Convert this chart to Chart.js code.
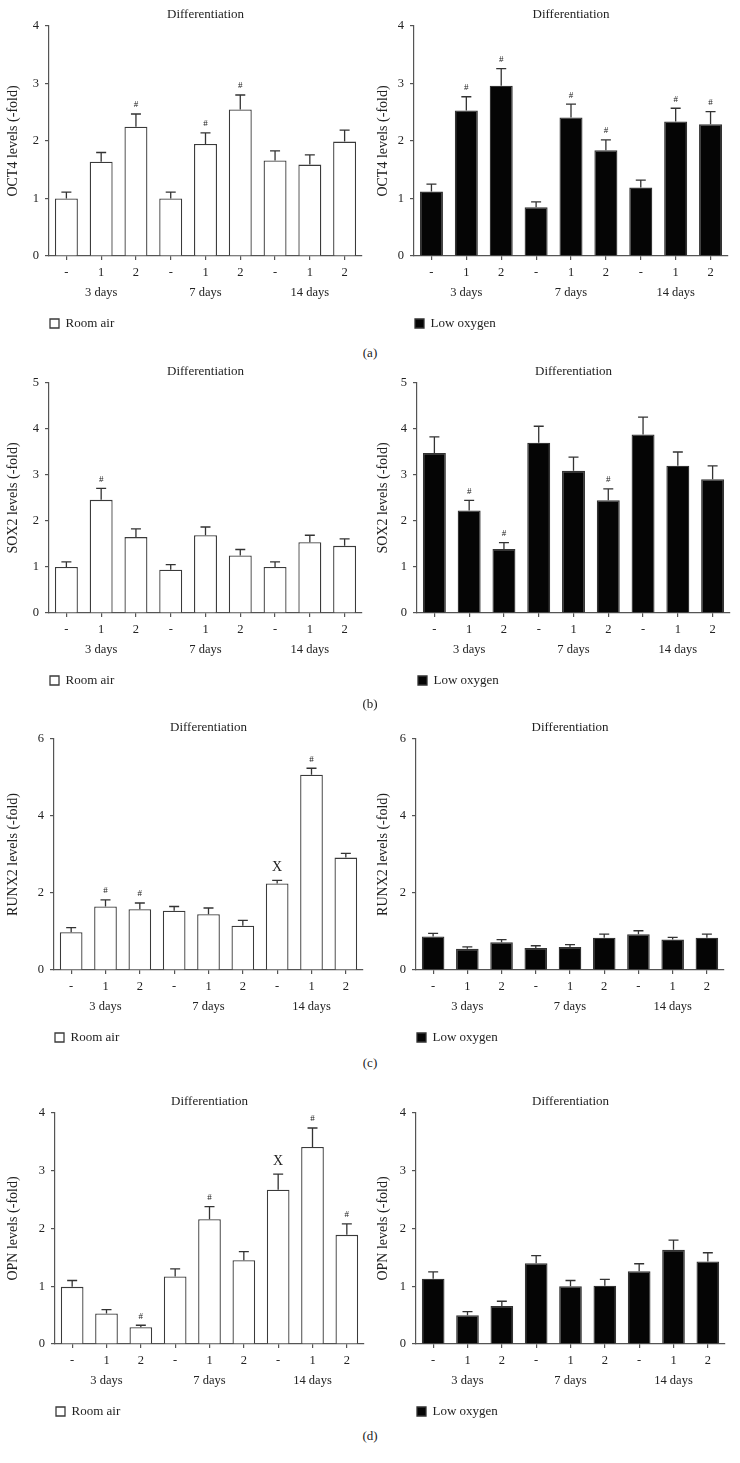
<!DOCTYPE html>
<html>
<head>
<meta charset="utf-8">
<script src="https://cdn.jsdelivr.net/npm/chart.js@4.4.1/dist/chart.umd.min.js"></script>
<style>
  html, body { margin: 0; padding: 0; background: #fff; }
  #fig { position: relative; width: 740px; height: 1463px; font-family: 'Liberation Serif', serif; color: #222; }
  #fig canvas { position: absolute; }
  .tag { position: absolute; width: 40px; margin-left: -20px; text-align: center; font-size: 13px; line-height: 16px; color: #222; }
</style>
</head>
<body>
<div id="fig"></div>
<script>
'use strict';

// x axis: dose under every bar, culture time under the middle bar of each group
const DOSES = ['-', '1', '2'];
const DAYS  = ['3 days', '7 days', '14 days'];

// y tick values per gene
const oct4Ticks  = [0, 1, 2, 3, 4];
const sox2Ticks  = [0, 1, 2, 3, 4, 5];
const runx2Ticks = [0, 2, 4, 6];
const opnTicks   = [0, 1, 2, 3, 4];

// (a) OCT4
const oct4Air     = [1.00, 1.64, 2.25, 1.00, 1.95, 2.55, 1.66, 1.59, 1.99];
const oct4AirErr  = [0.11, 0.16, 0.22, 0.11, 0.19, 0.25, 0.17, 0.17, 0.20];
const oct4AirSig  = ['', '', '#', '', '#', '#', '', '', ''];
const oct4Low     = [1.12, 2.53, 2.96, 0.85, 2.41, 1.84, 1.19, 2.34, 2.29];
const oct4LowErr  = [0.13, 0.24, 0.30, 0.09, 0.23, 0.18, 0.13, 0.23, 0.22];
const oct4LowSig  = ['', '#', '#', '', '#', '#', '', '#', '#'];

// (b) SOX2
const sox2Air     = [1.00, 2.46, 1.65, 0.94, 1.69, 1.25, 1.00, 1.54, 1.46];
const sox2AirErr  = [0.11, 0.25, 0.18, 0.11, 0.18, 0.13, 0.11, 0.15, 0.15];
const sox2AirSig  = ['', '#', '', '', '', '', '', '', ''];
const sox2Low     = [3.48, 2.23, 1.39, 3.70, 3.09, 2.45, 3.88, 3.20, 2.91];
const sox2LowErr  = [0.35, 0.22, 0.14, 0.36, 0.30, 0.25, 0.38, 0.30, 0.29];
const sox2LowSig  = ['', '#', '#', '', '', '#', '', '', ''];

// (c) RUNX2
const runx2Air    = [0.98, 1.65, 1.58, 1.54, 1.45, 1.15, 2.25, 5.07, 2.92];
const runx2AirErr = [0.12, 0.17, 0.16, 0.11, 0.16, 0.14, 0.08, 0.17, 0.11];
const runx2AirSig = ['', '#', '#', '', '', '', 'X', '#', ''];
const runx2Low    = [0.87, 0.55, 0.72, 0.57, 0.60, 0.84, 0.93, 0.79, 0.84];
const runx2LowErr = [0.08, 0.05, 0.07, 0.06, 0.06, 0.09, 0.09, 0.06, 0.09];
const runx2LowSig = ['', '', '', '', '', '', '', '', ''];

// (d) OPN
const opnAir      = [0.99, 0.53, 0.29, 1.17, 2.16, 1.45, 2.67, 3.41, 1.89];
const opnAirErr   = [0.11, 0.065, 0.035, 0.13, 0.22, 0.15, 0.27, 0.33, 0.19];
const opnAirSig   = ['', '', '#', '', '#', '', 'X', '#', '#'];
const opnLow      = [1.13, 0.50, 0.66, 1.40, 1.00, 1.01, 1.26, 1.63, 1.43];
const opnLowErr   = [0.12, 0.06, 0.08, 0.13, 0.10, 0.11, 0.13, 0.17, 0.15];
const opnLowSig   = ['', '', '', '', '', '', '', '', ''];

const FONT = "'Liberation Serif', serif";
const INK  = '#222';
const AXIS = '#555';

const labels = [];
DAYS.forEach((day) => DOSES.forEach((d, k) => labels.push(k === 1 ? [d, day] : [d])));

// whisker + significance mark above each bar, placed through the y scale
const errorBars = {
  id: 'errorBars',
  afterDatasetsDraw(chart) {
    const { ctx } = chart;
    const y  = chart.scales.y;
    const ds = chart.data.datasets[0];
    ctx.save();
    ctx.strokeStyle = '#333';
    ctx.lineWidth = 1.3;
    ctx.fillStyle = INK;
    ctx.textAlign = 'center';
    ctx.textBaseline = 'middle';
    chart.getDatasetMeta(0).data.forEach((bar, i) => {
      const yCap = y.getPixelForValue(ds.data[i] + ds.errors[i]);
      ctx.beginPath();
      ctx.moveTo(bar.x, bar.y);
      ctx.lineTo(bar.x, yCap);
      ctx.moveTo(bar.x - 5, yCap);
      ctx.lineTo(bar.x + 5, yCap);
      ctx.stroke();
      const mark = ds.marks[i];
      if (mark === '#') {
        ctx.font = `9px ${FONT}`;
        ctx.fillText(mark, bar.x, yCap - 9);
      } else if (mark) {
        ctx.font = `14px ${FONT}`;
        ctx.fillText(mark, bar.x, yCap - 13);
      }
    });
    ctx.restore();
  },
};

const fig = document.getElementById('fig');

function makeChart(p) {
  const canvas = document.createElement('canvas');
  const W = 370;
  const H = 23 + p.plotH + 60 + 24;
  canvas.width = W;
  canvas.height = H;
  canvas.style.left = p.cx + 'px';
  canvas.style.top = p.top + 'px';
  canvas.style.width = W + 'px';
  canvas.style.height = H + 'px';
  fig.appendChild(canvas);

  const low = p.series === 'Low oxygen';

  new Chart(canvas, {
    type: 'bar',
    data: {
      labels,
      datasets: [{
        label: p.series,
        data: p.values,
        errors: p.errors,
        marks: p.marks,
        backgroundColor: low ? '#050505' : '#ffffff',
        borderColor: low ? '#333' : '#3a3a3a',
        borderWidth: 1.3,
        barPercentage: 0.66,
        categoryPercentage: 1,
      }],
    },
    options: {
      responsive: false,
      animation: false,
      devicePixelRatio: 1,
      layout: { padding: { left: 0, right: p.cx + W - p.right, top: 0, bottom: 0 } },
      plugins: {
        tooltip: { enabled: false },
        title: {
          display: true,
          text: 'Differentiation',
          fullSize: false,
          color: INK,
          font: { family: FONT, size: 13, weight: 'normal', lineHeight: 1 },
          padding: { top: 5, bottom: 5 },
        },
        legend: {
          position: 'bottom',
          align: 'start',
          fullSize: false,
          labels: {
            color: INK,
            font: { family: FONT, size: 13 },
            boxWidth: 9,
            boxHeight: 9,
            padding: 1,
          },
        },
      },
      scales: {
        x: {
          afterFit: (s) => { s.height = 60; },
          border: { color: AXIS, width: 1.2 },
          grid: { drawOnChartArea: false, offset: false, tickLength: 4, color: AXIS, lineWidth: 1.2 },
          ticks: {
            color: INK,
            autoSkip: false,
            maxRotation: 0,
            padding: 3,
            font: { family: FONT, size: 12.5, lineHeight: '20px' },
          },
        },
        y: {
          min: 0,
          max: p.ticks[p.ticks.length - 1],
          afterFit: (s) => { s.width = p.left - p.cx; },
          afterBuildTicks: (s) => { s.ticks = p.ticks.map((v) => ({ value: v })); },
          border: { color: AXIS, width: 1.2 },
          grid: { drawOnChartArea: false, tickLength: 4, color: AXIS, lineWidth: 1.2 },
          ticks: { color: INK, padding: 6, font: { family: FONT, size: 12.5 } },
          title: {
            display: true,
            text: p.ylabel,
            color: INK,
            font: { family: FONT, size: 14, lineHeight: 1.2 },
            padding: { top: 5, bottom: 0 },
          },
        },
      },
    },
    plugins: [errorBars],
  });
}

const ROWS = [
  { tag: '(a)', tagY: 353,  top: 3,    plotH: 230, ylabel: 'OCT4 levels (-fold)',  ticks: oct4Ticks,
    edges: [[49, 362], [414, 728]],
    air: [oct4Air, oct4AirErr, oct4AirSig], low: [oct4Low, oct4LowErr, oct4LowSig] },
  { tag: '(b)', tagY: 704,  top: 360,  plotH: 230, ylabel: 'SOX2 levels (-fold)',  ticks: sox2Ticks,
    edges: [[49, 362], [417, 730]],
    air: [sox2Air, sox2AirErr, sox2AirSig], low: [sox2Low, sox2LowErr, sox2LowSig] },
  { tag: '(c)', tagY: 1063, top: 716,  plotH: 231, ylabel: 'RUNX2 levels (-fold)', ticks: runx2Ticks,
    edges: [[54, 363], [416, 724]],
    air: [runx2Air, runx2AirErr, runx2AirSig], low: [runx2Low, runx2LowErr, runx2LowSig] },
  { tag: '(d)', tagY: 1436, top: 1090, plotH: 231, ylabel: 'OPN levels (-fold)',   ticks: opnTicks,
    edges: [[55, 364], [416, 725]],
    air: [opnAir, opnAirErr, opnAirSig], low: [opnLow, opnLowErr, opnLowSig] },
];

ROWS.forEach((r) => {
  [['Room air', r.air, 0], ['Low oxygen', r.low, 1]].forEach(([series, d, side]) => {
    makeChart({
      series,
      values: d[0], errors: d[1], marks: d[2],
      ylabel: r.ylabel, ticks: r.ticks,
      cx: side * 370, top: r.top, plotH: r.plotH,
      left: r.edges[side][0], right: r.edges[side][1],
    });
  });
  const tag = document.createElement('div');
  tag.className = 'tag';
  tag.textContent = r.tag;
  tag.style.left = '370px';
  tag.style.top = (r.tagY - 8) + 'px';
  fig.appendChild(tag);
});
</script>
</body>
</html>
